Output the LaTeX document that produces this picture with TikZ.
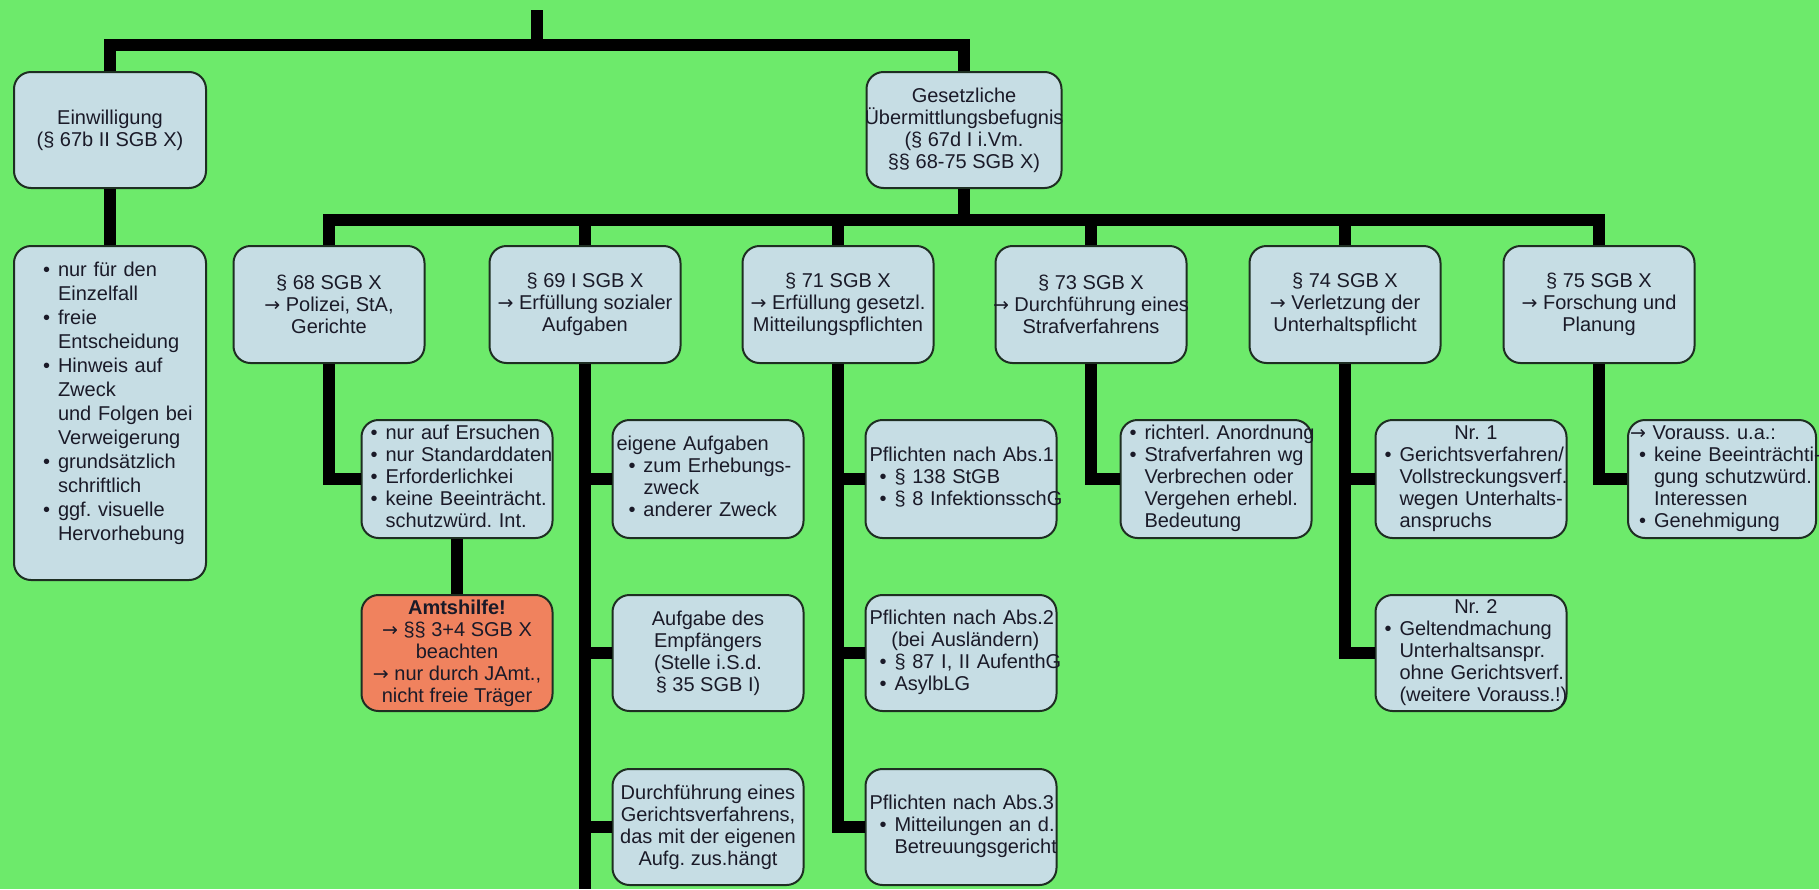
\documentclass[tikz,border=0pt]{standalone}
\usepackage{fontspec}
\setmainfont{Liberation Sans}
\newfontfamily\arrfont{DejaVu Sans}
\frenchspacing
\definecolor{bg}{HTML}{6DEA6B}
\definecolor{boxfill}{HTML}{C6DDE4}
\definecolor{boxline}{HTML}{1E2E22}
\definecolor{amt}{HTML}{F0825E}
\definecolor{txt}{HTML}{1A1A28}
\newcommand{\fs}{\fontsize{10pt}{11pt}\selectfont}
\newcommand{\ar}{{\arrfont\fontsize{9.5pt}{11pt}\selectfont →}}
\newenvironment{blst}[1][0pt]{\begin{tabular}{@{\hspace{#1}}l@{\hspace{4pt}}l@{}}}{\end{tabular}}
\newcommand{\bul}{\textbullet}
\newcommand{\ov}[1]{\makebox[88pt]{#1}}
\newcommand{\hl}[1]{\multicolumn{2}{@{}l@{}}{#1}}
\newcommand{\hc}[1]{\multicolumn{2}{@{}c@{}}{#1}}
\begin{document}
\begin{tikzpicture}[x=0.5pt,y=-0.5pt,
  box/.style={draw=boxline, line width=1pt, fill=boxfill, rounded corners=8.5pt,
    minimum width=95.5pt, minimum height=58.5pt, inner sep=0pt, font=\fs, text=txt, align=center},
  lbox/.style={box, align=left},
  conn/.style={line width=6pt, draw=black}]
\fill[bg] (0,0) rectangle (1819,889);
\useasboundingbox (0,0) rectangle (1819,889);

% top level
\node[box, minimum width=96pt, minimum height=58pt] (ein) at (110,130) {Einwilligung\\(§ 67b II SGB X)};
\node[lbox, minimum width=96pt, minimum height=167pt, inner xsep=14.5pt, text width=67pt] (einb) at (110,413) {%
\renewcommand{\arraystretch}{1.09}%
\begin{blst}
\bul & nur für den\\
 & Einzelfall\\
\bul & freie\\
 & Entscheidung\\
\bul & Hinweis auf\\
 & Zweck\\
 & und Folgen bei\\
 & Verweigerung\\
\bul & grundsätzlich\\
 & schriftlich\\
\bul & ggf. visuelle\\
 & Hervorhebung\\[9pt]
\end{blst}};
\node[box, minimum width=97.5pt, minimum height=58pt] (ges) at (964,130) {Gesetzliche\\\ov{Übermittlungsbefugnis}\\(§ 67d I i.Vm.\\§§ 68-75 SGB X)};

% second level
\node[box] (s68) at (329,304.5) {§ 68 SGB X\\\ar{} Polizei, StA,\\Gerichte};
\node[box] (s69) at (585,304.5) {§ 69 I SGB X\\\ov{\ar{} Erfüllung sozialer}\\Aufgaben};
\node[box] (s71) at (838,304.5) {§ 71 SGB X\\\ov{\ar{} Erfüllung gesetzl.}\\\ov{Mitteilungspflichten}};
\node[box] (s73) at (1091,304.5) {§ 73 SGB X\\\ov{\ar{} Durchführung eines}\\Strafverfahrens};
\node[box] (s74) at (1345,304.5) {§ 74 SGB X\\\ar{} Verletzung der\\Unterhaltspflicht};
\node[box] (s75) at (1599,304.5) {§ 75 SGB X\\\ar{} Forschung und\\Planung};

% third level
\node[lbox, minimum height=59pt, inner xsep=4.5pt, text width=86.5pt] (c68) at (457,479) {%
\begin{blst}
\bul & nur auf Ersuchen\\
\bul & nur Standarddaten\\
\bul & Erforderlichkei\\
\bul & keine Beeinträcht.\\
 & schutzwürd. Int.
\end{blst}};
\node[box, fill=amt, minimum height=58pt] (amt) at (457,653) {\textbf{Amtshilfe!}\\\ar{} §§ 3+4 SGB X\\beachten\\\ar{} nur durch JAmt.,\\nicht freie Träger};

\node[lbox, minimum height=59pt, inner xsep=2pt, text width=91.5pt] (c69a) at (708,479) {%
\begin{blst}[6pt]
\hl{eigene Aufgaben}\\
\bul & zum Erhebungs-\\
 & zweck\\
\bul & anderer Zweck
\end{blst}};
\node[box, minimum height=58pt] (c69b) at (708,653) {Aufgabe des\\Empfängers\\(Stelle i.S.d.\\§ 35 SGB I)};
\node[box, minimum height=58pt] (c69c) at (708,827) {Durchführung eines\\Gerichtsverfahrens,\\das mit der eigenen\\Aufg. zus.hängt};

\node[lbox, minimum height=59pt, inner xsep=2pt, text width=91.5pt] (c71a) at (961,479) {%
\begin{blst}[5pt]
\hl{Pflichten nach Abs.1}\\
\bul & § 138 StGB\\
\bul & § 8 InfektionsschG
\end{blst}};
\node[lbox, minimum height=58pt, inner xsep=2pt, text width=91.5pt] (c71b) at (961,653) {%
\begin{blst}[5pt]
\hl{Pflichten nach Abs.2}\\
\hc{(bei Ausländern)}\\
\bul & § 87 I, II AufenthG\\
\bul & AsylbLG
\end{blst}};
\node[lbox, minimum height=58pt, inner xsep=2pt, text width=91.5pt] (c71c) at (961,827) {%
\begin{blst}[5pt]
\hl{Pflichten nach Abs.3}\\
\bul & Mitteilungen an d.\\
 & Betreuungsgericht
\end{blst}};

\node[lbox, minimum height=59pt, inner xsep=4.5pt, text width=86.5pt] (c73) at (1216,479) {%
\begin{blst}
\bul & richterl. Anordnung\\
\bul & Strafverfahren wg\\
 & Verbrechen oder\\
 & Vergehen erhebl.\\
 & Bedeutung
\end{blst}};

\node[lbox, minimum height=59pt, inner xsep=4.5pt, text width=86.5pt] (c74a) at (1471,479) {%
\begin{blst}
\hc{Nr. 1}\\
\bul & Gerichtsverfahren/\\
 & Vollstreckungsverf.\\
 & wegen Unterhalts-\\
 & anspruchs
\end{blst}};
\node[lbox, minimum height=58pt, inner xsep=4.5pt, text width=86.5pt] (c74b) at (1471,653) {%
\begin{blst}
\hc{Nr. 2}\\
\bul & Geltendmachung\\
 & Unterhaltsanspr.\\
 & ohne Gerichtsverf.\\
 & (weitere Vorauss.!)
\end{blst}};

\node[lbox, minimum width=94pt, minimum height=59pt, inner xsep=1pt, text width=92pt] (c75) at (1722,479) {%
\begin{blst}[4.5pt]
\hl{\ar{} Vorauss. u.a.:}\\
\bul & keine Beeinträchti-\\
 & gung schutzwürd.\\
 & Interessen\\
\bul & Genehmigung
\end{blst}};

% connectors
\coordinate (root) at (537,10);
\coordinate (bar1) at (537,45);
\coordinate (bar2) at (964,220);
\coordinate (s69end) at (585,889);
\draw[conn] (root) -- (bar1);
\draw[conn] (ein.north) |- (bar1) -| (ges.north);
\draw[conn] (ein.south) -- (einb.north);
\draw[conn] (ges.south) -- (bar2);
\draw[conn] (s68.north) |- (bar2) -| (s75.north);
\foreach \n in {s69,s71,s73,s74} \draw[conn] (\n.north) -- (\n.north |- bar2);

\draw[conn] (s68.south) |- (c68.west);
\draw[conn] (c68.south) -- (amt.north);
\draw[conn] (s69.south) -- (s69end);
\draw[conn] (s69.south) |- (c69a.west);
\draw[conn] (s69.south) |- (c69b.west);
\draw[conn] (s69.south) |- (c69c.west);
\draw[conn] (s71.south) |- (c71a.west);
\draw[conn] (s71.south) |- (c71b.west);
\draw[conn] (s71.south) |- (c71c.west);
\draw[conn] (s73.south) |- (c73.west);
\draw[conn] (s74.south) |- (c74a.west);
\draw[conn] (s74.south) |- (c74b.west);
\draw[conn] (s75.south) |- (c75.west);
\end{tikzpicture}
\end{document}
